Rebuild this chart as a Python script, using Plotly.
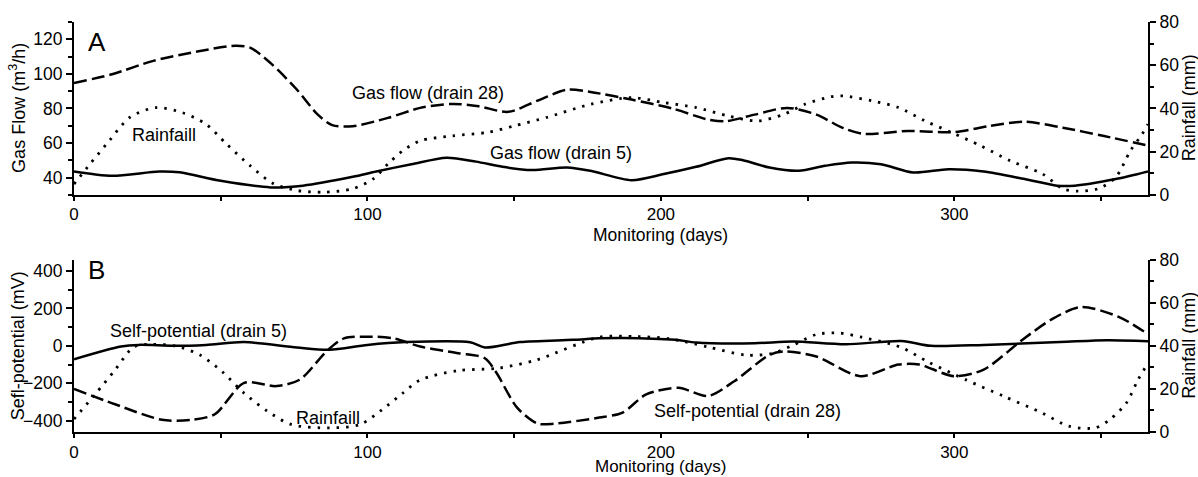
import plotly.graph_objects as go

# ---------------- Panel A data ----------------
days_gf28 = [0, 13, 27, 42, 55, 60, 67, 76, 83, 88, 95, 107, 118, 129, 138, 148, 158, 168, 176,
             190, 204, 216, 222, 232, 243, 253, 262, 269, 284, 300, 312, 324, 337, 351, 366]
gas_flow_28 = [94.7, 99.8, 107.5, 112.9, 116.3, 115.2, 106.2, 90.8, 76.5, 70.3, 69.7, 74.5, 80.3, 82.6,
               81.2, 78.0, 84.5, 90.8, 89.5, 85.1, 79.9, 73.6, 72.6, 76.4, 80.3, 76.4, 68.7, 65.3, 66.9,
               66.3, 69.8, 72.3, 68.8, 64.0, 58.5]

days_gf5 = [0, 13, 29, 36, 50, 67, 78, 95, 103, 115, 127, 137, 146, 156, 168, 176, 190, 201, 212, 223,
            228, 237, 247, 256, 265, 275, 286, 298, 310, 324, 335, 341, 355, 366]
gas_flow_5 = [43.5, 41.0, 43.5, 43.0, 38.1, 34.3, 35.3, 40.4, 43.5, 47.7, 51.5, 49.2, 46.2, 44.3, 45.8,
              43.9, 38.5, 42.0, 46.2, 51.2, 50.0, 45.8, 43.9, 46.8, 48.7, 47.7, 42.9, 44.8, 43.5, 39.1,
              35.3, 35.3, 39.1, 43.5]

days_rain_a = [0, 5.5, 12, 19, 28, 37, 45, 52, 60, 68, 76, 85, 95, 102, 107, 112, 118, 129, 141, 150,
               161, 176, 190, 201, 212, 223, 233, 242, 249, 258, 262, 272, 281, 290, 299, 309, 319, 330,
               337, 342, 349, 355, 360, 364, 366]
rain_a = [5.0, 14.3, 25.0, 35.8, 40.4, 38.0, 32.7, 23.5, 13.5, 5.1, 2.0, 1.2, 2.8, 7.4, 14.3, 20.4, 25.0,
          27.3, 28.9, 31.9, 35.8, 41.9, 45.0, 42.7, 40.4, 36.5, 34.2, 37.3, 41.9, 45.4, 45.8, 43.5, 40.4,
          34.2, 28.9, 22.7, 15.8, 9.7, 2.8, 1.7, 2.8, 8.1, 20.4, 28.1, 32.7]

# ---------------- Panel B data ----------------
days_sp28 = [0, 14, 30, 40, 48, 58, 69, 77, 86, 92, 100, 109, 118, 131, 140, 144, 151, 158, 164, 179,
             187, 195, 206, 216, 225, 237, 242, 253, 268, 281, 288, 300, 310, 323, 333, 343, 356, 366]
sp_28 = [-230, -312, -395, -395, -365, -198, -215, -180, -30, 40, 49, 40, -4, -39, -66, -145, -330, -415,
         -415, -383, -356, -259, -224, -268, -189, -48, -30, -57, -162, -100, -100, -162, -127, 30, 140,
         207, 155, 62]

days_sp5 = [0, 16, 22, 34, 45, 58, 76, 87, 100, 113, 135, 140, 152, 170, 179, 187, 205, 212, 232, 245,
            263, 282, 292, 310, 336, 352, 366]
sp_5 = [-72, -4, 5, 0, 5, 20, -9, -21, 5, 20, 19, -9, 20, 32, 40, 42, 32, 18, 14, 23, 8, 26, 0, 5, 20,
        30, 25]

days_rain_b = [0, 7.5, 14, 20.4, 27, 35, 43, 50.5, 58, 66, 74, 87, 97.5, 105, 112, 118, 131, 144.5, 157.5,
               179, 192, 203, 216, 229, 238, 245, 253, 261, 268.5, 281.5, 291, 304, 317, 330, 339, 348,
               353, 358.6, 362.5, 366]
rain_b = [6.0, 18.0, 28.8, 39.5, 40.7, 39.8, 35.7, 28.0, 18.0, 9.6, 3.5, 1.9, 3.5, 10.4, 18.0, 24.2, 28.5,
          29.6, 33.4, 44.0, 44.3, 43.3, 39.5, 35.7, 36.5, 40.3, 45.3, 45.9, 44.0, 39.5, 32.6, 24.2, 16.5,
          8.8, 2.7, 1.9, 5.8, 13.4, 24.0, 32.0]

x_ticks = [0, 100, 200, 300]
gas_ticks = [40, 60, 80, 100, 120]
rain_ticks = [0, 20, 40, 60, 80]
sp_ticks = [-400, -200, 0, 200, 400]

FONT = "Liberation Sans, Arial, sans-serif"
DASH = "13px,5px"
DOT = "2.5px,7px"
LW = 2.5

fig = go.Figure()

def line(x, y, xa, ya, dash):
    return go.Scatter(x=x, y=y, xaxis=xa, yaxis=ya, mode="lines",
                      line=dict(color="black", width=LW if dash != DOT else 2.8, dash=dash,
                                shape="spline", smoothing=0.8),
                      showlegend=False, hoverinfo="skip")

fig.add_trace(line(days_rain_a, rain_a, "x", "y2", DOT))
fig.add_trace(line(days_gf28, gas_flow_28, "x", "y", DASH))
fig.add_trace(line(days_gf5, gas_flow_5, "x", "y", "solid"))

fig.add_trace(line(days_rain_b, rain_b, "x2", "y4", DOT))
fig.add_trace(line(days_sp28, sp_28, "x2", "y3", DASH))
fig.add_trace(line(days_sp5, sp_5, "x2", "y3", "solid"))

tickfont = dict(family=FONT, size=17.5, color="black")
xtickfont = dict(family=FONT, size=17, color="black")

def minor(dt):
    return dict(dtick=dt, ticklen=4, tickwidth=2, tickcolor="black", ticks="outside")

def ax(**kw):
    d = dict(showline=True, linecolor="black", linewidth=2.2, ticks="outside", ticklen=6,
             tickwidth=2, tickcolor="black", showgrid=False, zeroline=False, tickfont=tickfont,
             mirror=False)
    d.update(kw)
    return d

top_dom = [0.5785, 1.0]
bot_dom = [0.0, 0.4203]

fig.update_layout(
    width=1198, height=477,
    margin=dict(l=74, r=50, t=18, b=45),
    plot_bgcolor="white", paper_bgcolor="white",
    font=dict(family=FONT, color="black"),
    xaxis=ax(domain=[0, 1], anchor="y", range=[0, 366], tickvals=x_ticks, minor=minor(50),
             ticklen=3, tickfont=xtickfont),
    yaxis=ax(domain=top_dom, anchor="x", range=[30, 130], tickvals=gas_ticks, minor=minor(10)),
    yaxis2=ax(overlaying="y", anchor="x", side="right", range=[0, 80], tickvals=rain_ticks,
              minor=minor(10)),
    xaxis2=ax(domain=[0, 1], anchor="y3", range=[0, 366], tickvals=x_ticks, minor=minor(50),
              ticklen=3, tickfont=xtickfont),
    yaxis3=ax(domain=bot_dom, anchor="x2", range=[-460, 460], tickvals=sp_ticks, minor=minor(100)),
    yaxis4=ax(overlaying="y3", anchor="x2", side="right", range=[0, 80], tickvals=rain_ticks,
              minor=minor(10)),
)

ann = []
def txt(text, x, y, xref, yref, size=18, angle=0):
    ann.append(dict(text=text, x=x, y=y, xref=xref, yref=yref, showarrow=False,
                    font=dict(family=FONT, size=size, color="black"), textangle=angle,
                    xanchor="center", yanchor="middle"))

# axis titles
txt("Gas Flow (m<sup>3</sup>/h)", -0.0525, 0.7896, "paper", "paper", angle=-90)
txt("Rainfall (mm)", 1.0382, 0.7896, "paper", "paper", angle=-90)
txt("Sefl-potential (mV)", -0.0525, 0.2104, "paper", "paper", angle=-90)
txt("Rainfall (mm)", 1.0382, 0.2104, "paper", "paper", angle=-90)
ann.append(dict(text="Monitoring (days)", x=200, y=0.507, xref="x", yref="paper", showarrow=False,
                font=dict(family=FONT, size=17.5, color="black"), xanchor="center", yanchor="top",
                borderpad=0))
ann.append(dict(text="Monitoring (days)", x=200, y=-0.1087, xref="x2", yref="paper", showarrow=False,
                font=dict(family=FONT, size=17, color="black"), xanchor="center", yanchor="bottom",
                borderpad=0))

# panel letters
txt("A", 0.0214, 0.9517, "paper", "paper", size=26)
txt("B", 0.0205, 0.396, "paper", "paper", size=26)

# curve labels
txt("Gas flow (drain 28)", 120.6, 88.9, "x", "y")
txt("Rainfaill", 30.5, 64.9, "x", "y")
txt("Gas flow (drain 5)", 166, 54.4, "x", "y")
txt("Self-potential (drain 5)", 42.3, 79, "x2", "y3")
txt("Rainfaill", 86.7, -383, "x2", "y3")
txt("Self-potential (drain 28)", 229.6, -347, "x2", "y3")

fig.update_layout(annotations=ann)

fig.write_html("out.html")
